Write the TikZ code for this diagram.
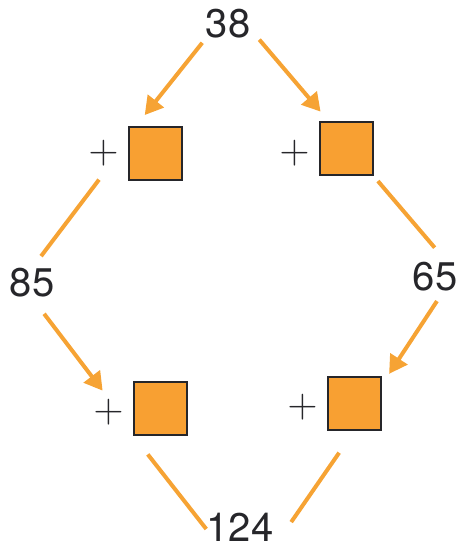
\documentclass[tikz,border=0pt]{standalone}
\usepackage{fontspec}
\setmainfont{TeX Gyre Heros}
\usetikzlibrary{arrows.meta, positioning}
\definecolor{arr_col}{RGB}{246, 163, 52}
\definecolor{box_col}{RGB}{248, 160, 50}
\definecolor{edge_col}{RGB}{38, 38, 42}

\begin{document}
\begin{tikzpicture}[
    x=0.5pt, y=-0.5pt,
    every node/.style={font=\fontsize{20}{24}\selectfont, inner sep=0pt, text=edge_col},
    blank/.style={draw=edge_col, fill=box_col, line width=1pt, minimum size=26.5pt},
    sign/.style={font=\fontsize{21.5}{24}\selectfont},
    link/.style={arr_col, line width=2pt},
    arr/.style={link, -{Triangle[length=9pt, width=10pt]}},
]
  \useasboundingbox (0,0) rectangle (464,549);

  % numbers
  \node (n38)  at (228,24)  {38};
  \node (n85)  at (32,283)  {85};
  \node (n65)  at (435,277) {65};
  \node (n124) at (240,527) {124};

  % empty boxes with plus signs
  \node[blank] (b1) at (155.5,153.5) {};
  \node[blank] (b2) at (346.5,149)   {};
  \node[blank] (b3) at (160.5,408)   {};
  \node[blank] (b4) at (354.5,403)   {};
  \node[sign, left=4.5pt of b1] (p1) {$+$};
  \node[sign, left=4.5pt of b2, yshift=-2pt] (p2) {$+$};
  \node[sign, left=4.5pt of b3, yshift=-2pt] (p3) {$+$};
  \node[sign, left=4.5pt of b4, yshift=-2pt] (p4) {$+$};

  \draw[arr, shorten <=2.5pt, shorten >=7pt] (n38.south west) -- ([xshift=4pt]b1.north west);
  \draw[arr, shorten <=0.5pt, shorten >=6.5pt] ([xshift=4pt]n38.south east) -- ([xshift=5pt]b2.north west);
  \draw[link, shorten <=8pt, shorten >=7.5pt] ([xshift=2.5pt]p1.south) -- (n85.north);
  \draw[arr, shorten <=10pt, shorten >=5pt] (n85.south) -- (p3.north);
  \draw[link, shorten <=3pt, shorten >=9.5pt] (b2.south east) -- ([xshift=6pt]n65.north);
  \draw[arr, shorten <=5.5pt, shorten >=1pt] ([xshift=4pt]n65.south) -- ([xshift=3pt]b4.north east);
  \draw[link, shorten <=12pt] (b3.south west) -- ([yshift=-1pt]n124.west);
  \draw[link, shorten <=13.5pt, shorten >=3pt] (b4.south) -- ([xshift=7pt]n124.east);
\end{tikzpicture}
\end{document}
